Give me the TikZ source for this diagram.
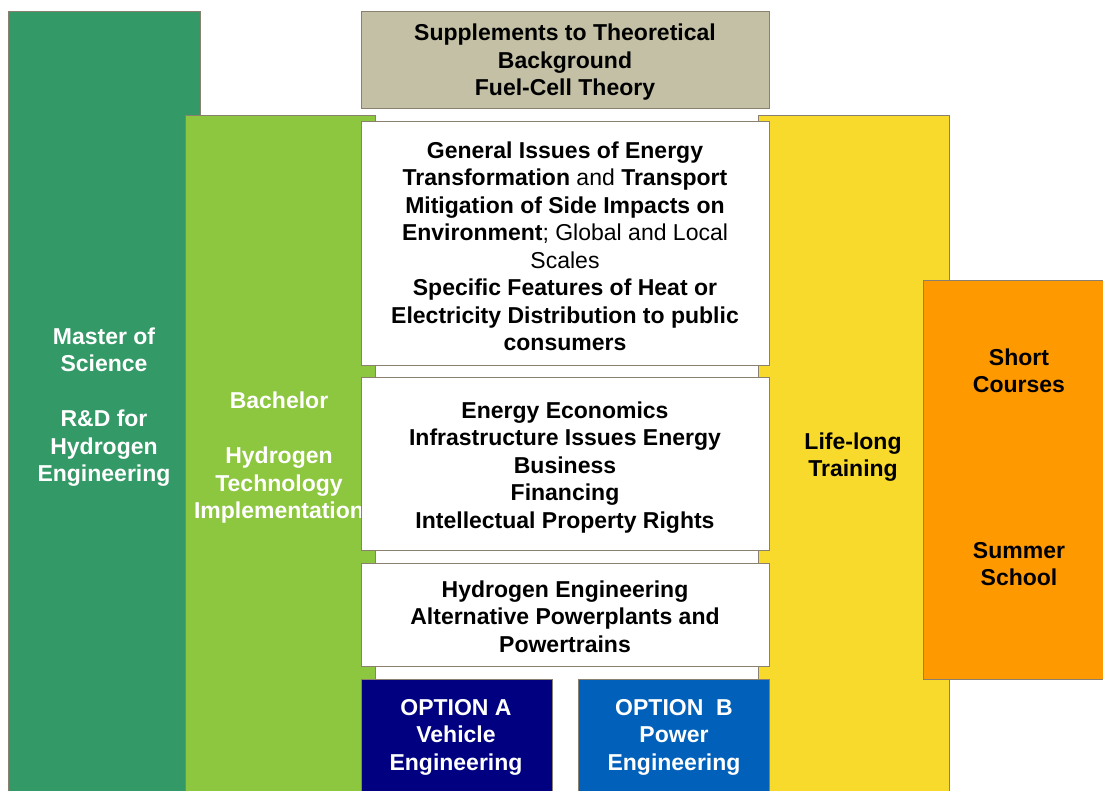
\documentclass[tikz,border=0pt]{standalone}
\usepackage{fontspec}
\setmainfont{Liberation Sans}
\definecolor{edge}{HTML}{8A8070}
\definecolor{dkgreen}{HTML}{339966}
\definecolor{ltgreen}{HTML}{8DC63F}
\definecolor{tan}{HTML}{C3C0A6}
\definecolor{ylw}{HTML}{F7DA2B}
\definecolor{org}{HTML}{FF9900}
\definecolor{navy}{HTML}{000080}
\definecolor{blu}{HTML}{0060BA}
\begin{document}
\begin{tikzpicture}[x=1pt,y=-1pt,
  blk/.style={draw=edge, line width=1.2pt, inner sep=0pt, anchor=north west},
  txt/.style={font=\fontsize{23}{27.5}\selectfont\bfseries, align=center, inner sep=0pt},
  wtxt/.style={txt, text=white}]
\path[use as bounding box] (0,0) rectangle (1103,790);
% columns
\node[blk, fill=dkgreen, minimum width=192pt, minimum height=800pt] (master) at (8,11) {};
\node[blk, fill=ylw, minimum width=191pt, minimum height=700pt] (life) at (758,115) {};
\node[blk, fill=ltgreen, minimum width=190pt, minimum height=700pt] (bach) at (185,115) {};
\node[blk, fill=org, minimum width=190pt, minimum height=399pt] (short) at (923,280) {};
\node[wtxt] (mastertxt) at (104,407) {Master of\\Science\\[27.5pt]R\&D for\\Hydrogen\\Engineering};
\node[wtxt] (bachtxt) at (279,458) {Bachelor\\[27.5pt]Hydrogen\\Technology\\Implementation};
\node[txt] (lifetxt) at (853,457) {Life-long\\Training};
\node[txt] (shorttxt) at (1019,371) {Short\\Courses};
\node[txt] (summertxt) at (1019,564) {Summer\\School};
% central boxes
\node[blk, fill=tan, minimum width=408pt, minimum height=97pt] (supp) at (361,11) {};
\node[blk, fill=white, minimum width=408pt, minimum height=244pt] (gen) at (361,121) {};
\node[blk, fill=white, minimum width=408pt, minimum height=173pt] (econ) at (361,377) {};
\node[blk, fill=white, minimum width=408pt, minimum height=103pt] (hyd) at (361,563) {};
\node[blk, fill=navy, minimum width=191pt, minimum height=130pt] (optA) at (361,679) {};
\node[blk, fill=blu, minimum width=191pt, minimum height=130pt] (optB) at (578,679) {};
\node[txt] (supptxt) at (565,62.5) {Supplements to Theoretical\\Background\\Fuel-Cell Theory};
\node[txt] (gentxt) at (565,246.5) {General Issues of Energy\\Transformation \mdseries and \bfseries Transport\\Mitigation of Side Impacts on\\Environment\mdseries; Global and Local\\\mdseries Scales\\Specific Features of Heat or\\Electricity Distribution to public\\consumers};
\node[txt] (econtxt) at (565,467.5) {Energy Economics\\Infrastructure Issues Energy\\Business\\Financing\\Intellectual Property Rights};
\node[txt] (hydtxt) at (565,616.5) {Hydrogen Engineering\\Alternative Powerplants and\\Powertrains};
\node[wtxt] (optAtxt) at (456,737) {OPTION A\\Vehicle\\Engineering};
\node[wtxt] (optBtxt) at (674,737) {OPTION~~B\\Power\\Engineering};
\end{tikzpicture}
\end{document}
